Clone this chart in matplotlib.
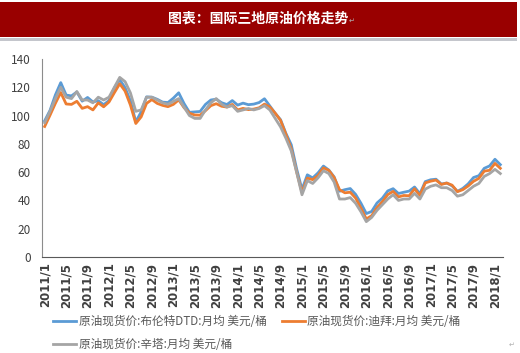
import numpy as np
import matplotlib
matplotlib.use("Agg")
import matplotlib.pyplot as plt
from matplotlib.patches import Rectangle

plt.rcParams['font.family'] = ['Noto Sans CJK SC', 'DejaVu Sans']

# monthly averages, 2011/1 .. 2018/2 (USD / barrel)
brent = [96.3, 103.7, 114.6, 123.3, 114.5, 113.9, 116.7, 110.2, 112.8, 109.6, 110.5, 107.7,
         110.6, 119.6, 125.4, 119.7, 110.3, 95.6, 102.6, 113.2, 113.0, 111.5, 109.5, 109.2,
         112.3, 116.1, 108.5, 102.3, 102.6, 102.9, 107.9, 111.0, 111.6, 109.1, 107.8, 110.6,
         107.4, 108.8, 107.7, 108.1, 109.2, 111.9, 106.8, 101.6, 97.1, 87.4, 79.4, 62.3,
         47.8, 58.1, 55.9, 59.5, 64.3, 61.5, 56.6, 46.5, 47.6, 48.4, 44.3, 38.0,
         30.7, 32.2, 38.2, 41.6, 46.7, 48.3, 44.9, 45.8, 46.6, 49.5, 44.7, 53.3,
         54.6, 55.0, 51.6, 52.3, 50.3, 46.4, 48.5, 51.7, 56.2, 57.5, 62.7, 64.4,
         69.1, 65.3]
dubai = [92.3, 100.3, 108.7, 116.3, 108.2, 107.9, 110.1, 105.1, 106.3, 104.0, 109.0, 106.2,
         109.6, 116.2, 122.5, 117.3, 107.4, 94.4, 99.1, 108.6, 111.3, 108.6, 107.2, 106.3,
         107.9, 111.1, 105.6, 101.7, 100.4, 100.3, 103.5, 107.0, 108.4, 106.6, 106.0, 107.9,
         104.0, 105.1, 104.2, 104.6, 105.5, 108.1, 106.1, 101.7, 96.6, 86.7, 76.5, 60.2,
         45.6, 55.8, 54.7, 57.6, 63.0, 61.3, 56.2, 47.6, 45.4, 45.8, 41.7, 34.6,
         26.9, 29.2, 35.0, 39.1, 44.1, 46.4, 42.5, 43.5, 43.3, 48.2, 43.5, 52.4,
         53.6, 54.4, 51.3, 52.3, 50.8, 46.2, 47.6, 50.2, 53.5, 55.6, 60.7, 61.3,
         66.2, 62.7]
cinta = [95.0, 103.0, 112.0, 120.0, 113.0, 112.0, 117.0, 111.0, 111.0, 109.0, 113.0, 111.0,
         113.0, 120.0, 127.0, 124.0, 116.0, 103.0, 104.0, 113.0, 113.0, 111.0, 109.0, 108.0,
         110.0, 112.0, 106.0, 100.0, 98.0, 98.0, 104.0, 109.0, 112.0, 108.0, 106.0, 107.0,
         103.0, 104.0, 105.0, 104.0, 105.0, 107.0, 104.0, 98.0, 92.0, 84.0, 75.0, 60.0,
         44.0, 54.0, 52.0, 56.0, 61.0, 59.0, 53.0, 41.0, 41.0, 42.0, 38.0, 32.0,
         25.0, 28.0, 33.0, 37.0, 41.0, 44.0, 40.0, 41.0, 41.0, 45.0, 41.0, 48.0,
         50.0, 51.0, 49.0, 49.0, 47.0, 43.0, 44.0, 47.0, 50.0, 52.0, 57.0, 59.0,
         62.0, 59.0]

months = [f"{2011 + i // 12}/{i % 12 + 1}" for i in range(len(brent))]
names = ["原油现货价:布伦特DTD:月均 美元/桶",
         "原油现货价:迪拜:月均 美元/桶",
         "原油现货价:辛塔:月均 美元/桶"]
colors = ["#5B9BD5", "#ED7D31", "#A5A5A5"]

W, H = 520, 353
fig = plt.figure(figsize=(W / 100, H / 100), dpi=100)

# title banner
fig.patches.append(Rectangle((0, 1 - 37 / H), 517 / W, 35 / H, transform=fig.transFigure,
                             facecolor="#990000", edgecolor="none"))
fig.patches.append(Rectangle((0, 1 - 41 / H), 517 / W, 3 / H, transform=fig.transFigure,
                             facecolor="#C4C6CC", edgecolor="none"))
fig.text(258 / W, 1 - 19 / H, "图表：国际三地原油价格走势", color="white", fontsize=10,
         fontweight="bold", ha="center", va="center")
fig.text(352 / W, 1 - 21 / H, "↵", color="#B0B0B0", fontsize=5, ha="center", va="center")
fig.text(512 / W, 1 - 345 / H, "↵", color="#B0B0B0", fontsize=5, ha="center", va="center")

ax = fig.add_axes([42 / W, 1 - 257 / H, (503 - 42) / W, (257 - 59) / H])
x = np.arange(len(brent))
lines = []
for ys, c, n in zip([brent, dubai, cinta], colors, names):
    ln, = ax.plot(x, ys, color=c, lw=2.0, label=n, solid_joinstyle="round")
    lines.append(ln)

ax.set_xlim(-0.5, len(brent) - 0.5)
ax.set_ylim(0, 140)
ax.set_yticks(range(0, 141, 20))
ax.set_xticks(x[::4])
ax.set_xticklabels(months[::4], rotation=90, fontsize=8.5, fontweight="bold",
                   family=['DejaVu Sans'], color="#404040")
ax.tick_params(axis="y", labelsize=8.5, labelcolor="#404040", length=0, pad=8)
ax.tick_params(axis="x", length=0, pad=4)
for s in ["top", "right"]:
    ax.spines[s].set_visible(False)
ax.spines["left"].set_color("#8C8C8C")
ax.spines["bottom"].set_color("#595959")

fig.legend([lines[0], lines[2], lines[1]], [names[0], names[2], names[1]],
           loc="upper left", bbox_to_anchor=(53 / W, 1 - 315 / H), ncol=2,
           frameon=False, fontsize=8.4, handlelength=2.0, handletextpad=0.2,
           columnspacing=1.3, labelspacing=0.85, borderpad=0, borderaxespad=0,
           labelcolor="#595959")

fig.savefig("out.png", dpi=100)
